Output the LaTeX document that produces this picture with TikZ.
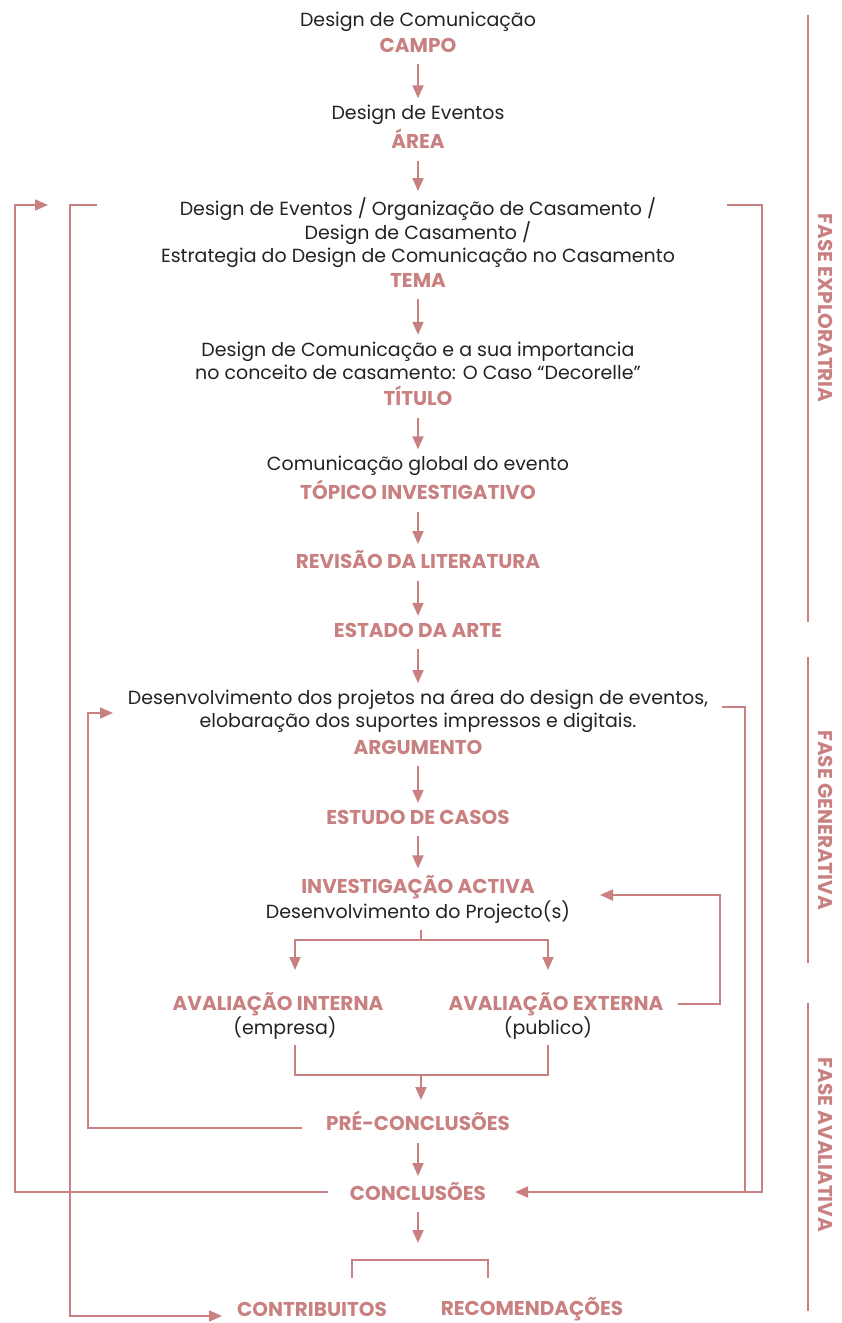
\documentclass[tikz,border=0pt]{standalone}
\usepackage{fontspec}
\setmainfont{Poppins}
\usetikzlibrary{arrows.meta}
\definecolor{rose}{RGB}{201,128,128}
\definecolor{ink}{RGB}{34,34,34}
\tikzset{every path/.style={rose,line width=1.8pt}, every node/.style={inner sep=0pt, align=center}}
\tikzset{txt/.style={text=ink, font=\fontsize{19}{23}\selectfont}, lbl/.style={text=rose, font=\fontsize{20}{23}\selectfont\bfseries},
  flow/.style={-{Triangle[length=13pt,width=11pt]}}, phase/.style={lbl, rotate=-90}}

\begin{document}
\begin{tikzpicture}[x=1pt,y=-1pt]
   \useasboundingbox (0,0) rectangle (841,1323);
   % main column
   \node[txt] (campoT) at (418,22) {Design de Comunicação};
   \node[lbl] (campo) at (418,45) {CAMPO};
   \node[txt] (areaT) at (418,115) {Design de Eventos};
   \node[lbl] (area) at (418,139) {ÁREA};
   \node[txt] (temaT) at (418,233) {Design de Eventos / Organização de Casamento /\\Design de Casamento /\\Estrategia do Design de Comunicação no Casamento};
   \node[lbl] (tema) at (418,280) {TEMA};
   \node[txt] (tituloT) at (418,360.5) {Design de Comunicação e a sua importancia\\no conceito de casamento: O Caso “Decorelle”};
   \node[lbl] (titulo) at (418,396) {TÍTULO};
   \node[txt] (topicoT) at (418,466) {Comunicação global do evento};
   \node[lbl] (topico) at (418,490) {TÓPICO INVESTIGATIVO};
   \node[lbl] (revisao) at (418,560) {REVISÃO DA LITERATURA};
   \node[lbl] (estado) at (418,630) {ESTADO DA ARTE};
   \node[txt] (argT) at (418,711.5) {Desenvolvimento dos projetos na área do design de eventos,\\elobaração dos suportes impressos e digitais.};
   \node[lbl] (arg) at (418,747) {ARGUMENTO};
   \node[lbl] (estudo) at (418,817) {ESTUDO DE CASOS};
   \node[lbl] (invest) at (418,887) {INVESTIGAÇÃO ACTIVA};
   \node[txt] (investT) at (418,912) {Desenvolvimento do Projecto(s)};
   \node[lbl] (interna) at (278,1004) {AVALIAÇÃO INTERNA};
   \node[txt] (internaT) at (285,1028) {(empresa)};
   \node[lbl] (externa) at (556,1004) {AVALIAÇÃO EXTERNA};
   \node[txt] (externaT) at (548,1028) {(publico)};
   \node[lbl] (pre) at (418,1121) {PRÉ-CONCLUSÕES};
   \node[lbl] (concl) at (418,1192) {CONCLUSÕES};
   \node[lbl] (contrib) at (312,1309) {CONTRIBUITOS};
   \node[lbl] (recom) at (532,1309) {RECOMENDAÇÕES};
   % phases
   \node[phase] (ph1) at (826,308) {FASE EXPLORATRIA};
   \node[phase] (ph2) at (826,820) {FASE GENERATIVA};
   \node[phase] (ph3) at (826,1145) {FASE AVALIATIVA};
   \draw[line width=1.4pt] (808,15) -- (808,622) (808,657) -- (808,963) (808,1003) -- (808,1311);
   % straight steps
   \foreach \a/\b in {campo/areaT, area/temaT, tema/tituloT, titulo/topicoT, topico/revisao, revisao/estado, estado/argT, arg/estudo, estudo/invest, pre/concl}
     \draw[flow, shorten <=11pt, shorten >=6pt] (\a) -- (\b);
   \coordinate (cTop) at (418,1212);
   \coordinate (cBot) at (418,1243);
   \draw[flow] (cTop) -- (cBot);
   % split and merge
   \coordinate (fork) at (421,940);
   \coordinate (inA) at (295,970);
   \coordinate (inB) at (548,970);
   \draw (421,930) -- (fork);
   \draw[flow] (fork) -| (inA);
   \draw[flow] (fork) -| (inB);
   \coordinate (join) at (421,1075);
   \draw (295,1045) |- (join) -| (548,1045);
   \draw[flow] (join) -- (421,1100);
   \draw[line width=1.4pt] (352,1278) |- (420,1260) -| (488,1278);
   % feedback loops
   \draw[flow] (678,1004) -| (720,895) -- (600,895);
   \draw[flow] (302,1128) -| (88,713) -- (113,713);
   \draw[flow] (328,1192) -| (15,205) -- (48,205);
   \draw[flow] (97,205) -| (70,1316) -- (222,1316);
   \draw (727,205) -| (762,1192) -- (730,1192);
   \draw[flow] (722,707) -| (745,1192) -- (515,1192);
\end{tikzpicture}
\end{document}
